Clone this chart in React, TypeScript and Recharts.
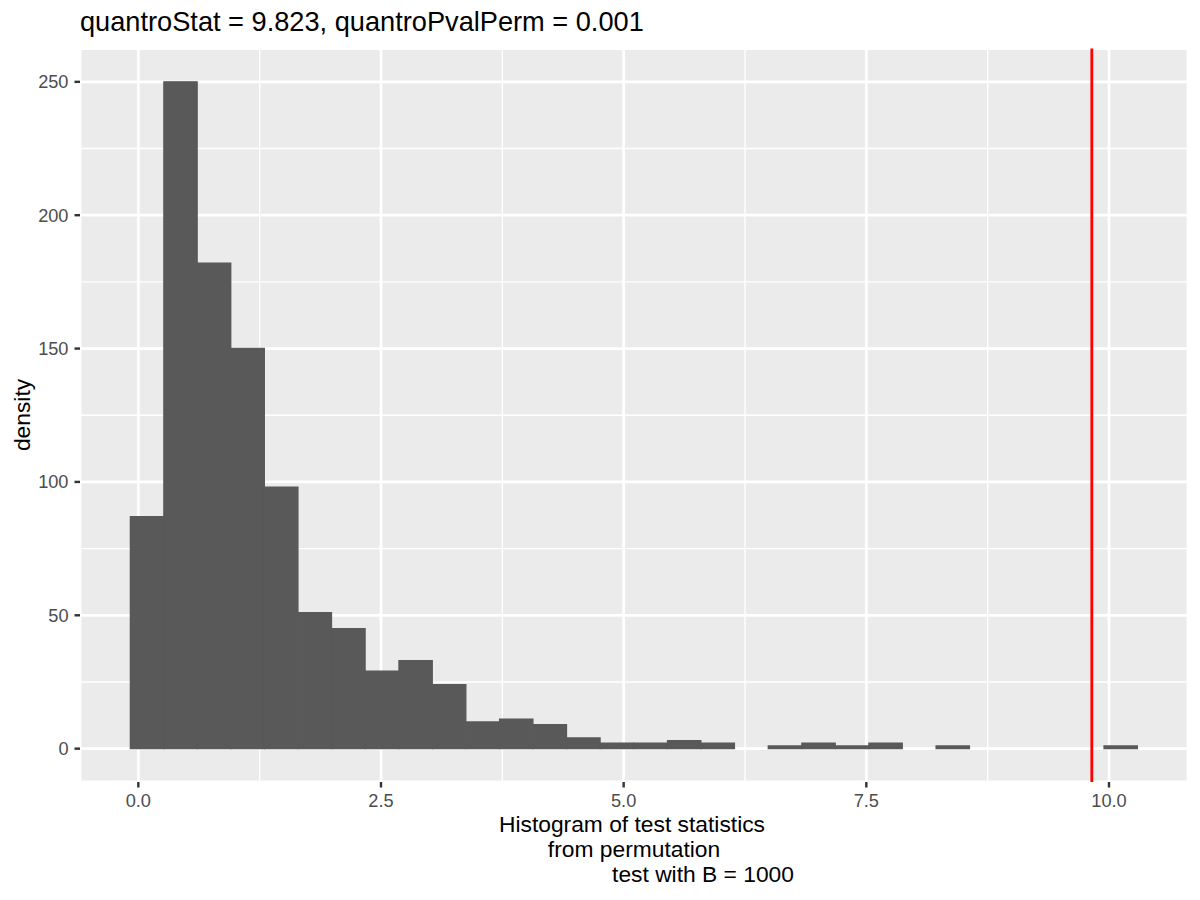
import React from "react";
import {
  ComposedChart,
  Bar,
  XAxis,
  YAxis,
  CartesianGrid,
  ReferenceLine,
} from "recharts";

// bin midpoints of the permutation histogram (30 bins)
const binMids = [
  0.091, 0.436, 0.782, 1.128, 1.474, 1.82, 2.166, 2.512, 2.858, 3.204,
  3.55, 3.895, 4.241, 4.587, 4.933, 5.279, 5.625, 5.971, 6.317, 6.663,
  7.009, 7.354, 7.7, 8.046, 8.392, 8.738, 9.084, 9.43, 9.776, 10.122,
];
const binCounts = [
  87, 250, 182, 150, 98, 51, 45, 29, 33, 24, 10, 11, 9, 4, 2, 2, 3, 2, 0, 1,
  2, 1, 2, 0, 1, 0, 0, 0, 0, 1,
];

const observedStat = 9.823;
const xTicks = [0, 2.5, 5, 7.5, 10];
const xMinorTicks = [1.25, 3.75, 6.25, 8.75];
const yTicks = [0, 50, 100, 150, 200, 250];
const yMinorTicks = [25, 75, 125, 175, 225];
const xDomain: [number, number] = [-0.601, 10.814];
const yDomain: [number, number] = [-12.5, 262.5];

const titleText = "quantroStat = 9.823, quantroPvalPerm = 0.001";
const xLabelLines = [
  "Histogram of test statistics",
  "from permutation",
  "test with B = 1000",
];

const data = binMids.map((mid, i) => ({ mid, count: binCounts[i] }));

const FONT = '"Liberation Sans", Arial, Helvetica, sans-serif';
const tickStyle = { fill: "#4D4D4D", fontSize: 18.2, fontFamily: FONT };
const tickLine = { stroke: "#333333", strokeWidth: 2.4 };

// x centres of the three x-axis title lines (ggplot keeps the spaces)
const xLabelCentres = [632, 634, 703];

export default function App() {
  return (
    <div style={{ position: "relative", width: 1200, height: 900, background: "#fff" }}>
      <style>{"body{margin:0}"}</style>
      <ComposedChart
        width={1200}
        height={900}
        data={data}
        margin={{ top: 48.5, right: 12, bottom: 0, left: 0 }}
        barCategoryGap={0}
        barGap={0}
      >
        <XAxis
          xAxisId="minor"
          dataKey="mid"
          type="number"
          domain={xDomain}
          ticks={xMinorTicks}
          allowDataOverflow
          hide
        />
        <YAxis
          yAxisId="minor"
          type="number"
          domain={yDomain}
          ticks={yMinorTicks}
          allowDataOverflow
          hide
        />
        <CartesianGrid
          xAxisId="minor"
          yAxisId="minor"
          stroke="#FFFFFF"
          strokeWidth={1.4}
          fill="#EBEBEB"
          fillOpacity={1}
        />
        <CartesianGrid stroke="#FFFFFF" strokeWidth={2.8} />
        <XAxis
          dataKey="mid"
          type="number"
          domain={xDomain}
          ticks={xTicks}
          allowDataOverflow
          tickFormatter={(v: number) => v.toFixed(1)}
          height={118}
          tick={tickStyle}
          tickLine={tickLine}
          axisLine={false}
          tickSize={5.5}
          tickMargin={6.5}
        />
        <YAxis
          type="number"
          domain={yDomain}
          ticks={yTicks}
          allowDataOverflow
          width={80}
          tick={tickStyle}
          tickLine={tickLine}
          axisLine={false}
          tickSize={5.5}
          tickMargin={6}
        />
        <Bar
          dataKey="count"
          fill="#595959"
          stroke="#595959"
          strokeWidth={1.4}
          barSize={33.2}
          isAnimationActive={false}
        />
        <ReferenceLine x={observedStat} stroke="#FF0000" strokeWidth={2.8} />
      </ComposedChart>
      <svg
        width={1200}
        height={900}
        style={{ position: "absolute", left: 0, top: 0, pointerEvents: "none" }}
      >
        <text x={80} y={31} fontSize={27.2} fontFamily={FONT} fill="#000">
          {titleText}
        </text>
        <text
          x={0}
          y={0}
          transform="translate(29.5 415) rotate(-90)"
          textAnchor="middle"
          fontSize={22.8}
          fontFamily={FONT}
          fill="#000"
        >
          density
        </text>
        {xLabelLines.map((line, i) => (
          <text
            key={line}
            x={xLabelCentres[i]}
            y={832 + i * 25}
            textAnchor="middle"
            fontSize={22.8}
            fontFamily={FONT}
            fill="#000"
          >
            {line}
          </text>
        ))}
      </svg>
    </div>
  );
}
